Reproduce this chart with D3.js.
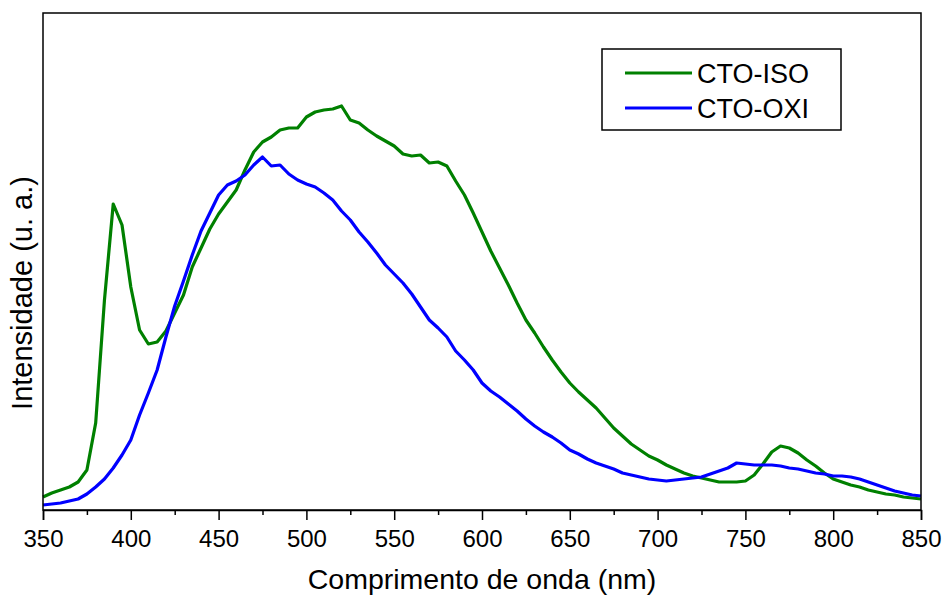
<!DOCTYPE html>
<html>
<head>
<meta charset="utf-8">
<script src="https://cdn.jsdelivr.net/npm/d3@7"></script>
<style>
  html, body { margin: 0; padding: 0; background: #fff; }
  svg { display: block; font-family: "Liberation Sans", Arial, sans-serif; }
</style>
</head>
<body>
<svg id="chart" width="943" height="597"></svg>
<script>
// Emission spectra, wavelength in nm (5 nm steps)
const wavelengths = d3.range(350, 851, 5);

// CTO-ISO intensity (a.u.)
const ctoIso = [
  13, 17, 20, 23, 28, 40, 87, 210, 306, 285,
  223, 180, 166, 168, 179, 197, 215, 243, 262, 281,
  296, 308, 320, 340, 358, 368, 373, 380, 382, 382,
  393, 398, 400, 401, 404, 390, 387, 380, 374, 369,
  364, 356, 354, 355, 347, 348, 344, 329, 315, 297,
  278, 259, 242, 225, 207, 190, 177, 163, 150, 138,
  127, 118, 110, 102, 92, 82, 74, 66, 60, 54,
  50, 45, 41, 37, 34, 32, 30, 28, 28, 28,
  29, 35, 46, 58, 64, 62, 57, 50, 44, 37,
  31, 28, 25, 23, 20, 18, 16, 15, 13, 12,
  11
];

// CTO-OXI intensity (a.u.)
const ctoOxi = [
  5, 6, 7, 9, 11, 16, 23, 31, 42, 55,
  70, 95, 117, 140, 173, 204, 229, 255, 279, 297,
  315, 325, 329, 335, 345, 353, 344, 345, 336, 330,
  326, 323, 317, 310, 299, 290, 278, 268, 257, 245,
  236, 227, 216, 203, 190, 182, 173, 159, 150, 140,
  127, 119, 113, 106, 99, 91, 84, 78, 73, 67,
  60, 56, 51, 47, 44, 41, 37, 35, 33, 31,
  30, 29, 30, 31, 32, 33, 36, 39, 42, 47,
  46, 45, 45, 45, 44, 42, 41, 39, 37, 36,
  34, 34, 33, 31, 28, 25, 22, 19, 17, 15,
  14
];

const seriesNames = ["CTO-ISO", "CTO-OXI"];
const seriesColors = ["#008000", "#0000ff"];
const majorTicks = d3.range(350, 851, 50);
const minorTicks = d3.range(375, 850, 50);

const xTitle = "Comprimento de onda (nm)";
const yTitle = "Intensidade (u. a.)";

const margin = { top: 13, right: 22, bottom: 87, left: 43 };
const W = 943, H = 597;
const svg = d3.select("#chart");

const x = d3.scaleLinear().domain([350, 850]).range([margin.left, W - margin.right]);
const y = d3.scaleLinear().domain([0, 497]).range([H - margin.bottom, margin.top]);

const series = [ctoIso, ctoOxi].map((vals, i) => ({
  name: seriesNames[i],
  color: seriesColors[i],
  points: wavelengths.map((w, j) => [w, vals[j]])
}));

const line = d3.line().x(d => x(d[0])).y(d => y(d[1]));

// Spectra
const plot = svg.append("g");
series.forEach(s => {
  plot.append("path")
    .datum(s.points)
    .attr("fill", "none")
    .attr("stroke", s.color)
    .attr("stroke-width", 3.2)
    .attr("stroke-linejoin", "round")
    .attr("d", line);
});

// Frame
svg.append("rect")
  .attr("x", margin.left)
  .attr("y", margin.top)
  .attr("width", W - margin.right - margin.left)
  .attr("height", H - margin.bottom - margin.top)
  .attr("fill", "none")
  .attr("stroke", "#000")
  .attr("stroke-width", 1.5);

// Bottom axis with major and minor ticks
const xAxis = svg.append("g")
  .attr("transform", `translate(0,${H - margin.bottom})`)
  .call(d3.axisBottom(x).tickValues(majorTicks).tickSize(10).tickPadding(10).tickFormat(d3.format("d")));
xAxis.select(".domain").attr("stroke-width", 1.5);
xAxis.selectAll(".tick line").attr("stroke-width", 1.5);
xAxis.selectAll(".tick text")
  .attr("font-size", 24)
  .attr("font-family", "Liberation Sans, Arial, sans-serif")
  .attr("fill", "#000");

svg.append("g")
  .attr("transform", `translate(0,${H - margin.bottom})`)
  .call(d3.axisBottom(x).tickValues(minorTicks).tickSize(5).tickFormat(""))
  .call(g => g.select(".domain").remove())
  .selectAll(".tick line").attr("stroke-width", 1.5);

// Axis titles
svg.append("text")
  .attr("x", (margin.left + W - margin.right) / 2)
  .attr("y", 589)
  .attr("text-anchor", "middle")
  .attr("font-size", 28.5)
  .attr("fill", "#000")
  .text(xTitle);

svg.append("text")
  .attr("transform", "translate(32,293) rotate(-90)")
  .attr("text-anchor", "middle")
  .attr("font-size", 29)
  .attr("fill", "#000")
  .text(yTitle);

// Legend
const legend = svg.append("g");
legend.append("rect")
  .attr("x", 602).attr("y", 49)
  .attr("width", 239).attr("height", 81)
  .attr("fill", "#fff")
  .attr("stroke", "#000")
  .attr("stroke-width", 1.5);
series.forEach((s, i) => {
  const ly = 73 + i * 35;
  legend.append("line")
    .attr("x1", 625).attr("x2", 692)
    .attr("y1", ly).attr("y2", ly)
    .attr("stroke", s.color)
    .attr("stroke-width", 3.2);
  legend.append("text")
    .attr("x", 697).attr("y", ly + 9.5)
    .attr("font-size", 27)
    .attr("fill", "#000")
    .text(s.name);
});
</script>
</body>
</html>
